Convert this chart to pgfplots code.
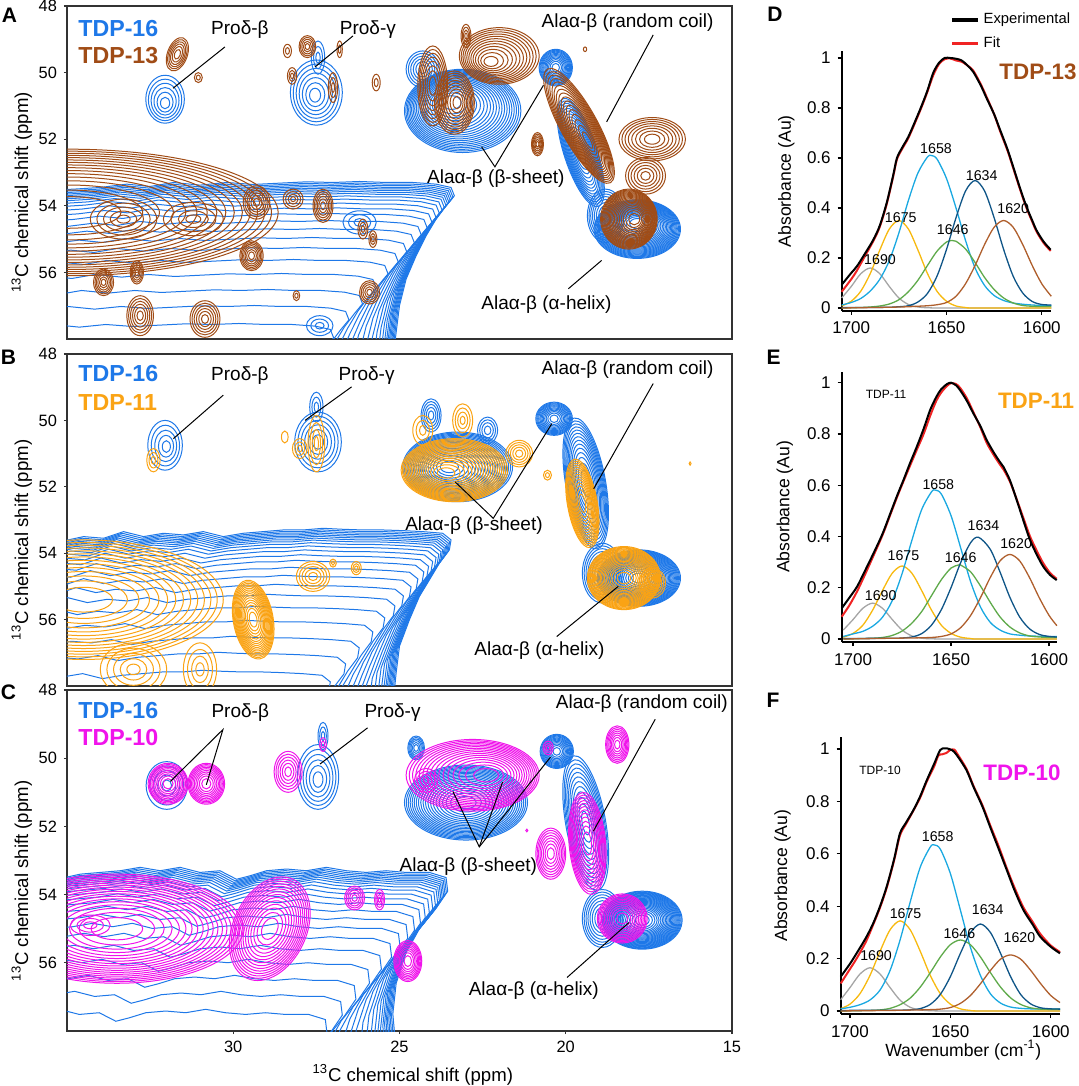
\documentclass[border=0pt]{standalone}
\usepackage{fontspec}
\setmainfont{Liberation Sans}
\usepackage{pgfplots}
\usepackage{pgfplotstable}
\pgfplotsset{compat=1.18}

\definecolor{cblue}{RGB}{30,120,232}
\definecolor{cbrown}{RGB}{160,76,22}
\definecolor{corange}{RGB}{250,163,20}
\definecolor{cmag}{RGB}{240,20,235}
\definecolor{fgray}{RGB}{165,165,165}
\definecolor{fyellow}{RGB}{247,185,15}
\definecolor{flblue}{RGB}{25,168,225}
\definecolor{fgreen}{RGB}{95,170,75}
\definecolor{fdblue}{RGB}{15,85,135}
\definecolor{fbrown}{RGB}{175,95,45}
\definecolor{fred}{RGB}{240,35,35}

\def\UX{16.625}
\def\UY{16.65}

\pgfdeclareplotmark{rings}{%
  \pgfmathtruncatemacro{\rN}{\vN}%
  \pgfmathsetmacro{\rB}{\vA+90}%
  \foreach \k in {1,...,\rN}{%
    \pgfmathsetmacro{\rF}{((\rN-\k+1)/\rN)^(\vP)}%
    \pgfmathsetmacro{\rCX}{-1*(\vDX)*(1-\rF)*\UX}%
    \pgfmathsetmacro{\rCY}{-1*(\vDY)*(1-\rF)*\UY}%
    \pgfmathsetmacro{\rAX}{\rF*\vRX*\UX}%
    \pgfmathsetmacro{\rAY}{\rF*\vRY*\UY}%
    \pgfpathellipse{\pgfpoint{\rCX pt}{\rCY pt}}{\pgfpointpolar{\vA}{\rAX pt}}{\pgfpointpolar{\rB}{\rAY pt}}%
    \pgfusepathqstroke
  }%
}

\pgfplotsset{
  rings/.style={only marks, scatter, mark=rings, clip marker paths=true, line width=0.5pt, #1,
    visualization depends on={value \thisrow{rx}\as\vRX},
    visualization depends on={value \thisrow{ry}\as\vRY},
    visualization depends on={value \thisrow{a}\as\vA},
    visualization depends on={value \thisrow{n}\as\vN},
    visualization depends on={value \thisrow{p}\as\vP},
    visualization depends on={value \thisrow{dx}\as\vDX},
    visualization depends on={value \thisrow{dy}\as\vDY},
    scatter/@pre marker code/.code={},
    scatter/@post marker code/.code={},
  },
  nmr/.style={anchor=south west, scale only axis, width=332.5pt,
    xmin=15, xmax=35, ymin=48, ymax=58, x dir=reverse, y dir=reverse,
    ytick={48,50,52,54,56}, xtick=\empty, tick pos=left, tick align=outside,
    major tick length=1.5pt,
    axis line style={black!80, line width=0.65pt},
    tick style={black!80, line width=0.6pt},
    tick label style={font=\fontsize{8.2}{9}\selectfont},
    /pgf/number format/assume math mode=true,
    ylabel={\textsuperscript{13}C chemical shift (ppm)},
    ylabel style={at={(axis description cs:-0.068,0.44)}, anchor=center, font=\fontsize{9.3}{10}\selectfont}},
  ftir/.style={anchor=south west, scale only axis, x dir=reverse,
    axis x line*=bottom, axis y line*=left,
    xtick={1600,1650,1700}, xticklabels={1600,1650,1700},
    ytick={0,0.2,0.4,0.6,0.8,1}, yticklabels={0,0.2,0.4,0.6,0.8,1},
    tick align=outside, major tick length=2pt,
    x axis line style={-, line width=0.7pt},
    y axis line style={-, line width=1.2pt},
    tick style={black, line width=0.6pt},
    tick label style={font=\fontsize{8.5}{9}\selectfont},
    /pgf/number format/assume math mode=true,
    ylabel={Absorbance (Au)},
    ylabel style={at={(axis description cs:-0.265,0.5)}, anchor=center, font=\fontsize{8.8}{10}\selectfont},
    clip=false},
  comp/.style={line width=0.65pt, smooth, forget plot},
  spec/.style={line width=1pt, smooth, forget plot},
}
\tikzset{
  lab/.style={font=\fontsize{9.5}{11}\selectfont, inner sep=0pt},
  pk/.style={font=\fontsize{7.1}{8}\selectfont, inner sep=0pt},
  annot/.style={black, line width=0.5pt},
  tdp/.style={font=\fontsize{11.6}{13}\selectfont\bfseries, inner sep=0pt, anchor=west},
  letter/.style={font=\fontsize{10.5}{12}\selectfont\bfseries, inner sep=0pt},
}

\pgfplotstableread{
x y
36 53.55
34.8 53.5
34 53.45
33.2 53.35
32.5 53.42
31.8 53.3
31 53.38
30.2 53.3
29.4 53.36
28.6 53.32
27.8 53.28
27 53.3
26.2 53.27
25.4 53.3
24.6 53.3
23.9 53.35
23.45 53.45
23.35 53.7
23.6 54.0
23.9 54.4
24.2 54.9
24.5 55.5
24.8 56.2
25.0 57.0
25.1 57.8
25.2 58.6
}\bandA

\pgfplotstableread{
x y
36 53.7
35.2 53.65
34.5 53.5
33.9 53.55
33.3 53.35
32.7 53.5
32.1 53.4
31.5 53.45
30.9 53.35
30.3 53.5
29.7 53.4
29.1 53.35
28.5 53.3
27.9 53.3
27.3 53.25
26.7 53.28
26.1 53.3
25.5 53.3
24.9 53.32
24.3 53.35
23.7 53.4
23.45 53.6
23.5 53.9
23.8 54.3
24.1 54.8
24.4 55.3
24.7 56.0
25.0 56.8
25.1 57.6
25.2 58.6
}\bandB

\pgfplotstableread{
x y
36 53.6
35.3 53.55
34.6 53.4
34 53.35
33.4 53.3
32.8 53.2
32.2 53.3
31.6 53.2
31 53.35
30.4 53.3
29.9 53.55
29.5 53.45
29 53.3
28.4 53.25
27.8 53.3
27.2 53.2
26.6 53.3
26 53.35
25.4 53.3
24.8 53.35
24.1 53.35
23.6 53.5
23.55 53.9
23.9 54.4
24.4 55.0
24.8 55.7
25.1 56.6
25.2 57.5
25.1 58.6
}\bandC

\begin{document}
\begin{tikzpicture}
\useasboundingbox (0,0) rectangle (539.5pt,543pt);

%================ PANEL A ================
\def\UY{16.65}
\begin{axis}[nmr, at={(33.5pt,373.5pt)}, height=166.5pt]
\pgfplotsinvokeforeach{0,0.8,1.6,2.4,3.2,4.0,4.9,5.9,7.2,8.8,10.8,13.2,16,19.5,23.5,28,33,39,46,54,62,71}{
  \addplot[cblue, line width=0.5pt, xshift={-0.85*#1pt}, yshift={-#1pt}] table {\bandA};
}
\addplot[rings=cblue] table {
x y rx ry a n p dx dy
32.05 50.8 0.58 0.72 0 6 0.8 0 0.15
27.5 50.6 0.78 0.98 0 7 0.8 0.05 0.1
27.45 49.55 0.2 0.5 0 3 1 0 0
23.1 51.15 1.75 1.25 0 20 0.6 0.4 -0.3
24.3 49.9 0.5 0.55 0 6 0.8 0 0
20.3 49.85 0.5 0.55 0 12 0.6 0 0
19.55 52.4 0.5 1.7 18 14 0.6 0 0
17.85 54.7 1.3 0.88 0 24 0.55 0 -0.2
18.8 54.3 0.55 0.8 0 8 0.7 0 0
26.2 54.5 0.5 0.35 0 3 1 0 0
27.4 57.6 0.4 0.3 0 3 1 0 0
};
\addplot[rings=cbrown] table {
x y rx ry a n p dx dy
31.68 49.45 0.3 0.52 -20 6 0.7 0 0
31.05 50.15 0.12 0.15 0 2 1 0 0
27.77 49.22 0.25 0.33 0 5 0.8 0 0
28.37 49.35 0.12 0.2 0 2 1 0 0
28.23 50.1 0.14 0.25 0 3 1 0 0
27.0 50.45 0.14 0.45 0 3 1 0 0
26.8 49.3 0.08 0.25 0 2 1 0 0
25.7 50.3 0.12 0.25 0 2 1 0 0
19.42 49.3 0.05 0.07 0 1 1 0 0
24.0 50.4 0.45 1.2 0 8 0.7 0 0
23.35 50.9 0.6 0.95 0 10 0.7 -0.1 0
22.0 49.5 1.2 0.85 0 12 0.7 0.3 0.2
23.0 48.9 0.15 0.35 0 4 1 0 0
20.85 52.15 0.18 0.35 0 6 0.8 0 0
19.6 51.6 0.55 1.95 29 16 0.7 -0.3 0.5
17.4 52.0 1.0 0.65 0 8 0.7 0 0
18.1 54.4 0.85 0.9 0 20 0.55 -0.2 0
17.6 53.1 0.6 0.55 0 6 0.8 0 0
34.95 54.2 6.3 1.9 0 16 0.5 0 0
33.3 54.4 1.0 0.6 0 5 1 0 0
31.2 54.4 0.9 0.5 0 4 1 0 0
32.9 56.0 0.2 0.35 0 5 0.8 0 0
29.45 55.5 0.35 0.45 0 7 0.7 0 0
33.9 56.3 0.3 0.4 0 6 0.8 0 0
32.8 57.3 0.4 0.6 0 6 0.8 0 0
30.85 57.4 0.45 0.55 0 6 0.8 0 0
29.3 53.9 0.4 0.5 0 6 0.8 0 0
27.3 54.0 0.3 0.5 0 6 0.8 0 0
28.2 53.8 0.3 0.3 0 4 1 0 0
26.1 54.7 0.15 0.3 0 3 1 0 0
25.8 55.0 0.12 0.25 0 3 1 0 0
25.9 56.6 0.3 0.35 0 5 0.8 0 0
28.1 56.7 0.1 0.15 0 2 1 0 0
};
\node[tdp, text=cblue] at (axis cs:34.67,48.69) {TDP-16};
\node[tdp, text=cbrown] at (axis cs:34.67,49.5) {TDP-13};
\node[lab] at (axis cs:29.8,48.72) {Proδ-β};
\draw[annot] (axis cs:30.25,49.23) -- (axis cs:31.81,50.47);
\node[lab] at (axis cs:25.95,48.72) {Proδ-γ};
\draw[annot] (axis cs:26.4,48.9) -- (axis cs:27.54,49.83);
\node[lab] at (axis cs:18.14,48.5) {Alaα-β (random coil)};
\draw[annot] (axis cs:17.37,48.87) -- (axis cs:18.77,51.48);
\node[lab] at (axis cs:22.1,53.19) {Alaα-β (β-sheet)};
\draw[annot] (axis cs:22.53,52.23) -- (axis cs:22.13,52.83) -- (axis cs:20.67,50.38);
\node[lab] at (axis cs:20.58,56.96) {Alaα-β (α-helix)};
\draw[annot] (axis cs:19.92,56.49) -- (axis cs:18.92,55.64);
\end{axis}

%================ PANEL B ================
\def\UY{16.6}
\begin{axis}[nmr, at={(33.5pt,200pt)}, height=166pt]
\pgfplotsinvokeforeach{0,0.8,1.6,2.4,3.2,4.0,4.9,5.9,7.2,8.8,10.8,13.2,16,19.5,23.5,28,33,39,46,54,62,71}{
  \addplot[cblue, line width=0.5pt, xshift={-0.85*#1pt}, yshift={-#1pt}] table {\bandB};
}
\addplot[rings=cblue] table {
x y rx ry a n p dx dy
32.05 50.75 0.52 0.75 0 5 0.9 -0.05 0.05
27.45 50.65 0.7 0.9 0 6 0.8 0 0
27.5 49.6 0.2 0.45 0 3 1 0 0
23.25 51.4 1.65 1.05 0 20 0.6 0.3 0
24.05 49.85 0.3 0.5 0 5 0.8 0 0
22.35 50.3 0.3 0.4 0 4 0.8 0 0
20.35 49.95 0.55 0.5 0 12 0.6 0 0
19.4 51.9 0.6 2.0 10 14 0.6 0 0
17.8 54.75 1.25 0.85 0 24 0.55 0 0
18.9 54.6 0.6 0.9 0 8 0.7 0 0
};
\addplot[rings=corange] table {
x y rx ry a n p dx dy
32.4 51.2 0.2 0.35 0 3 1 0 0
28.0 50.85 0.22 0.3 0 3 1 0 0
27.5 50.7 0.25 0.85 0 4 1 0 0
28.45 50.5 0.1 0.18 0 1 1 0 0
23.35 51.5 1.6 0.95 0 20 0.6 0.3 0.1
23.1 50.0 0.3 0.5 0 4 1 0 0
24.3 50.3 0.3 0.45 0 3 1 0 0
21.4 51.0 0.4 0.4 0 5 0.8 0 0
20.55 51.65 0.12 0.15 0 2 1 0 0
19.5 52.5 0.45 1.35 10 14 0.6 0 0
18.25 54.75 1.1 0.95 0 22 0.55 0 0
17.4 54.9 0.4 0.45 0 6 0.8 0 0
16.26 51.3 0.03 0.05 0 1 1 0 0
34.5 55.4 4.2 1.8 0 14 0.6 0 0
29.4 56.0 0.6 1.2 10 16 0.6 0 0
27.6 54.7 0.5 0.45 0 5 0.8 0 0
26.3 54.45 0.15 0.2 0 3 1 0 0
27.0 54.3 0.1 0.12 0 2 1 0 0
33.0 57.5 1.0 0.8 0 5 1 0 0
31.0 57.5 0.5 0.8 0 4 1 0 0
};
\node[tdp, text=cblue] at (axis cs:34.67,48.59) {TDP-16};
\node[tdp, text=corange] at (axis cs:34.67,49.47) {TDP-11};
\node[lab] at (axis cs:29.8,48.66) {Proδ-β};
\draw[annot] (axis cs:30.3,49.24) -- (axis cs:31.8,50.55);
\node[lab] at (axis cs:25.99,48.66) {Proδ-γ};
\draw[annot] (axis cs:26.44,48.99) -- (axis cs:27.84,50.0);
\node[lab] at (axis cs:18.14,48.47) {Alaα-β (random coil)};
\draw[annot] (axis cs:17.37,48.89) -- (axis cs:19.16,52.06);
\node[lab] at (axis cs:22.76,53.17) {Alaα-β (β-sheet)};
\draw[annot] (axis cs:23.33,51.85) -- (axis cs:22.18,52.95) -- (axis cs:20.42,50.1);
\node[lab] at (axis cs:20.79,56.92) {Alaα-β (α-helix)};
\draw[annot] (axis cs:20.27,56.51) -- (axis cs:18.42,55.0);
\end{axis}

%================ PANEL C ================
\def\UY{17.05}
\begin{axis}[nmr, at={(33.5pt,27.5pt)}, height=170.5pt,
  xtick={15,20,25,30}, xticklabels={15,20,25,30},
  xlabel={\textsuperscript{13}C chemical shift (ppm)},
  xlabel style={at={(axis description cs:0.52,-0.129)}, anchor=center, font=\fontsize{9.3}{10}\selectfont}]
\pgfplotsinvokeforeach{0,0.8,1.6,2.4,3.2,4.0,4.9,5.9,7.2,8.8,10.8,13.2,16,19.5,23.5,28,33,39,46,54,62,71}{
  \addplot[cblue, line width=0.5pt, xshift={-0.85*#1pt}, yshift={-#1pt}] table {\bandC};
}
\addplot[rings=cblue] table {
x y rx ry a n p dx dy
32.0 50.8 0.62 0.7 0 5 0.9 0 0
27.45 50.55 0.62 0.95 0 6 0.8 0 0.1
27.3 49.35 0.15 0.4 0 3 1 0 0
23.0 51.3 1.85 1.1 0 20 0.6 0 0
24.5 49.7 0.25 0.35 0 6 0.7 0 0
20.27 49.8 0.5 0.5 0 12 0.6 0 0
19.4 51.9 0.6 2.0 10 12 0.7 0 0
17.7 54.75 1.2 0.85 0 24 0.55 0 0
18.9 54.7 0.6 0.85 0 8 0.7 0 0
};
\addplot[rings=cmag] table {
x y rx ry a n p dx dy
31.96 50.75 0.6 0.6 0 10 0.6 0 0
30.81 50.75 0.55 0.6 0 10 0.6 0 0
28.35 50.4 0.42 0.6 0 6 0.8 0 0
27.3 49.6 0.1 0.2 0 2 1 0 0
22.8 50.5 2.0 1.05 0 16 0.6 -0.5 0
24.2 50.65 0.35 0.35 0 4 1 0 0
20.53 49.7 0.15 0.2 0 3 1 0 0
18.45 49.6 0.35 0.55 0 8 0.7 0 0
19.35 52.5 0.55 1.5 5 12 0.6 0 0
20.45 52.8 0.45 0.75 0 8 0.7 0 0
18.3 54.7 0.75 0.72 0 12 0.6 0 0
21.17 52.12 0.03 0.04 0 1 1 0 0
33.5 55.0 3.8 1.6 0 18 0.55 0 0
28.9 55.0 1.1 1.6 -25 14 0.6 0 0
26.35 54.1 0.3 0.35 0 5 0.8 0 0
25.6 54.15 0.15 0.3 0 4 1 0 0
24.75 55.95 0.42 0.6 0 9 0.6 0 0
34.3 54.9 0.6 0.3 0 3 1 0 0
};
\node[tdp, text=cblue] at (axis cs:34.67,48.6) {TDP-16};
\node[tdp, text=cmag] at (axis cs:34.67,49.38) {TDP-10};
\node[lab] at (axis cs:29.79,48.66) {Proδ-β};
\draw[annot] (axis cs:31.89,50.68) -- (axis cs:30.31,49.16) -- (axis cs:30.81,50.78);
\node[lab] at (axis cs:25.21,48.66) {Proδ-γ};
\draw[annot] (axis cs:25.96,49.11) -- (axis cs:27.39,50.17);
\node[lab] at (axis cs:17.71,48.4) {Alaα-β (random coil)};
\draw[annot] (axis cs:17.31,48.86) -- (axis cs:19.17,52.14);
\node[lab] at (axis cs:22.93,53.17) {Alaα-β (β-sheet)};
\draw[annot] (axis cs:23.39,50.98) -- (axis cs:22.6,52.6) -- (axis cs:20.46,49.97);
\draw[annot] (axis cs:22.6,52.6) -- (axis cs:21.9,50.7);
\node[lab] at (axis cs:20.96,56.81) {Alaα-β (α-helix)};
\draw[annot] (axis cs:19.96,56.43) -- (axis cs:18.1,54.82);
\end{axis}

%================ PANEL D ================
\begin{axis}[ftir, at={(420.85pt,387.5pt)}, width=104.5pt, height=129.75pt,
  xmin=1595.3, xmax=1705, ymin=-0.012, ymax=1.026,
  legend style={at={(axis description cs:0.49,1.18)}, anchor=north west, draw=none, fill=none,
    font=\fontsize{7.4}{8}\selectfont, row sep=1pt},
  legend cell align=left,
  legend image code/.code={\draw[#1, line width=1.6pt] (0pt,0pt) -- (13pt,0pt);}]
\addlegendimage{black}\addlegendentry{Experimental}
\addlegendimage{fred}\addlegendentry{Fit}
\addplot[comp, fgray] coordinates {(1705,0.040) (1700,0.086) (1695,0.137) (1690,0.160) (1685,0.137) (1680,0.086) (1675,0.040) (1670,0.014) (1665,0.004) (1660,0.001) (1650,0) (1595,0)};
\addplot[comp, fyellow] coordinates {(1705,0.008) (1700,0.027) (1695,0.067) (1690,0.138) (1685,0.232) (1680,0.316) (1675,0.350) (1670,0.316) (1665,0.232) (1660,0.138) (1655,0.067) (1650,0.027) (1645,0.008) (1640,0.002) (1635,0) (1595,0)};
\addplot[comp, flblue] coordinates {(1705,0.012) (1700,0.022) (1695,0.038) (1690,0.068) (1685,0.115) (1680,0.19) (1675,0.30) (1670,0.43) (1665,0.54) (1660,0.604) (1658,0.610) (1655,0.596) (1650,0.518) (1645,0.40) (1640,0.27) (1635,0.16) (1630,0.09) (1625,0.05) (1620,0.03) (1615,0.02) (1610,0.015) (1605,0.012) (1600,0.01) (1595,0.01)};
\addplot[comp, fgreen] coordinates {(1705,0) (1695,0.002) (1690,0.004) (1685,0.008) (1680,0.016) (1675,0.033) (1670,0.065) (1665,0.111) (1660,0.170) (1655,0.227) (1650,0.264) (1647,0.270) (1645,0.267) (1640,0.236) (1635,0.182) (1630,0.122) (1625,0.074) (1620,0.04) (1615,0.02) (1610,0.01) (1605,0.007) (1600,0.006) (1595,0.006)};
\addplot[comp, fdblue] coordinates {(1705,0.002) (1690,0.002) (1680,0.003) (1675,0.005) (1670,0.009) (1665,0.024) (1660,0.058) (1655,0.127) (1650,0.234) (1645,0.361) (1640,0.468) (1635,0.510) (1630,0.468) (1625,0.361) (1620,0.234) (1615,0.127) (1610,0.06) (1605,0.026) (1600,0.014) (1595,0.012)};
\addplot[comp, fbrown] coordinates {(1705,0) (1680,0.003) (1670,0.005) (1665,0.007) (1660,0.009) (1655,0.013) (1650,0.022) (1645,0.047) (1640,0.097) (1635,0.170) (1630,0.254) (1625,0.323) (1620,0.350) (1615,0.323) (1610,0.254) (1605,0.170) (1600,0.097) (1595,0.047)};
\addplot[spec, fred] coordinates {(1705,0.065) (1700,0.115) (1697,0.15) (1693,0.205) (1688.4,0.268) (1685,0.325) (1681.4,0.415) (1678,0.525) (1676,0.595) (1673,0.64) (1670,0.68) (1666,0.75) (1663,0.805) (1660,0.865) (1657,0.93) (1654,0.975) (1651,0.995) (1648,0.998) (1645,0.99) (1642,0.985) (1639,0.97) (1636,0.95) (1632,0.895) (1629,0.845) (1625,0.775) (1622,0.71) (1618,0.63) (1615,0.56) (1611,0.465) (1608,0.40) (1605,0.345) (1602.7,0.305) (1599,0.26) (1595.3,0.228)};
\addplot[spec, black] coordinates {(1705,0.093) (1700,0.14) (1697,0.167) (1693,0.215) (1688.4,0.273) (1685,0.33) (1681.4,0.42) (1678,0.53) (1676,0.60) (1673,0.645) (1670,0.685) (1666,0.755) (1663,0.81) (1660,0.87) (1657,0.94) (1654,0.98) (1651,1.0) (1648,1.0) (1645,0.997) (1642,0.99) (1639,0.97) (1636,0.945) (1632,0.89) (1629,0.84) (1625,0.775) (1622,0.715) (1618,0.635) (1615,0.565) (1611,0.47) (1608,0.405) (1605,0.35) (1602.7,0.31) (1599,0.265) (1595.3,0.233)};
\node[pk] at (axis cs:1684.9,0.192) {1690};
\node[pk] at (axis cs:1674,0.363) {1675};
\node[pk] at (axis cs:1655.5,0.639) {1658};
\node[pk] at (axis cs:1646.7,0.312) {1646};
\node[pk] at (axis cs:1631.5,0.528) {1634};
\node[pk] at (axis cs:1615,0.399) {1620};
\end{axis}

%================ PANEL E ================
\begin{axis}[ftir, at={(420.85pt,221.95pt)}, width=107.5pt, height=135.2pt,
  xmin=1596.1, xmax=1705.8, ymin=-0.012, ymax=1.043]
\addplot[comp, fgray] coordinates {(1705,0.035) (1700,0.076) (1695,0.120) (1690,0.140) (1685,0.120) (1680,0.076) (1675,0.035) (1670,0.012) (1665,0.003) (1660,0.001) (1650,0) (1596,0)};
\addplot[comp, fyellow] coordinates {(1705,0.007) (1700,0.022) (1695,0.054) (1690,0.113) (1685,0.189) (1680,0.257) (1675,0.285) (1670,0.257) (1665,0.189) (1660,0.113) (1655,0.054) (1650,0.022) (1645,0.007) (1640,0.002) (1635,0) (1596,0)};
\addplot[comp, flblue] coordinates {(1705,0.01) (1700,0.02) (1695,0.03) (1690,0.05) (1685,0.085) (1680,0.15) (1675,0.255) (1670,0.385) (1665,0.505) (1660,0.574) (1658,0.581) (1655,0.566) (1650,0.481) (1645,0.353) (1640,0.223) (1635,0.125) (1630,0.065) (1625,0.035) (1620,0.02) (1615,0.015) (1610,0.012) (1600,0.01) (1596,0.01)};
\addplot[comp, fgreen] coordinates {(1705,0) (1695,0.002) (1690,0.003) (1685,0.006) (1680,0.014) (1675,0.031) (1670,0.062) (1665,0.107) (1660,0.169) (1655,0.231) (1650,0.277) (1646,0.289) (1645,0.288) (1640,0.262) (1635,0.207) (1630,0.143) (1625,0.086) (1620,0.047) (1615,0.024) (1610,0.012) (1605,0.008) (1600,0.006) (1596,0.006)};
\addplot[comp, fdblue] coordinates {(1705,0.002) (1680,0.003) (1675,0.004) (1670,0.008) (1665,0.021) (1660,0.054) (1655,0.114) (1650,0.201) (1645,0.300) (1640,0.376) (1636,0.397) (1630,0.350) (1625,0.261) (1620,0.163) (1615,0.086) (1610,0.04) (1605,0.018) (1600,0.01) (1596,0.008)};
\addplot[comp, fbrown] coordinates {(1705,0) (1680,0.003) (1670,0.004) (1665,0.005) (1660,0.006) (1655,0.01) (1650,0.02) (1645,0.045) (1640,0.092) (1635,0.161) (1630,0.240) (1625,0.305) (1620,0.330) (1615,0.305) (1610,0.240) (1605,0.161) (1600,0.092) (1596,0.052)};
\addplot[spec, fred] coordinates {(1705.8,0.087) (1702,0.13) (1698,0.185) (1694,0.25) (1689.6,0.325) (1685,0.405) (1681,0.485) (1677.5,0.555) (1674.3,0.615) (1671,0.675) (1667.5,0.738) (1664,0.8) (1660.7,0.87) (1657.5,0.93) (1655,0.962) (1652,0.988) (1650,0.998) (1647.5,0.995) (1645.4,0.98) (1642,0.94) (1638.6,0.885) (1635,0.825) (1631.8,0.765) (1628,0.715) (1625,0.68) (1623.3,0.662) (1620,0.615) (1616.5,0.545) (1613,0.47) (1609.7,0.4) (1606,0.34) (1602.9,0.295) (1599.5,0.258) (1596.1,0.235)};
\addplot[spec, black] coordinates {(1705.8,0.12) (1702,0.16) (1698,0.204) (1694,0.265) (1689.6,0.334) (1685,0.41) (1681,0.49) (1677.5,0.56) (1674.3,0.62) (1671,0.685) (1667.5,0.75) (1664,0.82) (1660.7,0.893) (1657.5,0.945) (1655,0.975) (1652,0.995) (1650,1.0) (1647.5,0.99) (1645.4,0.971) (1642,0.93) (1638.6,0.88) (1635,0.83) (1631.8,0.776) (1628,0.725) (1625,0.69) (1623.3,0.672) (1620,0.62) (1616.5,0.542) (1613,0.46) (1609.7,0.386) (1606,0.325) (1602.9,0.282) (1599.5,0.25) (1596.1,0.23)};
\node[pk] at (axis cs:1685.9,0.169) {1690};
\node[pk] at (axis cs:1674.3,0.324) {1675};
\node[pk] at (axis cs:1656.5,0.601) {1658};
\node[pk] at (axis cs:1645.1,0.319) {1646};
\node[pk] at (axis cs:1633.5,0.442) {1634};
\node[pk] at (axis cs:1616.8,0.373) {1620};
\end{axis}

%================ PANEL F ================
\begin{axis}[ftir, at={(420.35pt,35.95pt)}, width=109.65pt, height=138.4pt,
  xmin=1595.4, xmax=1704.6, ymin=-0.012, ymax=1.045,
  xlabel={Wavenumber (cm\textsuperscript{-1})},
  xlabel style={at={(axis description cs:0.559,-0.13)}, anchor=center, font=\fontsize{8.8}{10}\selectfont}]
\addplot[comp, fgray] coordinates {(1704.6,0.043) (1700,0.089) (1695,0.141) (1690,0.165) (1685,0.141) (1680,0.089) (1675,0.041) (1670,0.014) (1665,0.004) (1660,0.001) (1650,0) (1595.4,0)};
\addplot[comp, fyellow] coordinates {(1704.6,0.009) (1700,0.026) (1695,0.066) (1690,0.136) (1685,0.228) (1680,0.310) (1675,0.344) (1670,0.310) (1665,0.228) (1660,0.136) (1655,0.066) (1650,0.026) (1645,0.008) (1640,0.002) (1635,0) (1595.4,0)};
\addplot[comp, flblue] coordinates {(1704.6,0.008) (1700,0.014) (1695,0.024) (1690,0.042) (1685,0.08) (1680,0.155) (1675,0.272) (1670,0.416) (1665,0.549) (1660,0.626) (1658,0.634) (1655,0.618) (1650,0.525) (1645,0.385) (1640,0.243) (1635,0.135) (1630,0.065) (1625,0.03) (1620,0.015) (1615,0.01) (1610,0.008) (1600,0.007) (1595.4,0.007)};
\addplot[comp, fgreen] coordinates {(1704.6,0) (1690,0.002) (1685,0.004) (1680,0.01) (1675,0.024) (1670,0.049) (1665,0.091) (1660,0.146) (1655,0.206) (1650,0.253) (1645,0.271) (1640,0.253) (1635,0.206) (1630,0.146) (1625,0.091) (1620,0.05) (1615,0.025) (1610,0.012) (1605,0.007) (1600,0.006) (1595.4,0.006)};
\addplot[comp, fdblue] coordinates {(1704.6,0.002) (1675,0.003) (1670,0.004) (1665,0.009) (1660,0.025) (1655,0.063) (1650,0.131) (1645,0.220) (1640,0.299) (1635,0.332) (1630,0.299) (1625,0.220) (1620,0.131) (1615,0.063) (1610,0.027) (1605,0.012) (1600,0.008) (1595.4,0.007)};
\addplot[comp, fbrown] coordinates {(1704.6,0) (1680,0.002) (1665,0.004) (1660,0.005) (1655,0.007) (1650,0.013) (1645,0.029) (1640,0.059) (1635,0.104) (1630,0.155) (1625,0.198) (1620,0.214) (1615,0.198) (1610,0.155) (1605,0.104) (1600,0.059) (1595.4,0.032)};
\addplot[spec, fred] coordinates {(1704.6,0.105) (1700,0.16) (1696.7,0.2) (1692,0.265) (1688.4,0.33) (1685,0.395) (1681.7,0.47) (1678,0.575) (1675.1,0.67) (1672,0.715) (1668.4,0.765) (1665,0.815) (1661.8,0.875) (1658,0.935) (1656,0.975) (1654,0.98) (1652,0.985) (1650,0.997) (1648,0.998) (1646.8,0.985) (1642,0.925) (1638.5,0.86) (1634,0.785) (1630.2,0.71) (1626,0.63) (1621.9,0.545) (1618,0.47) (1613.6,0.395) (1609,0.34) (1605.3,0.295) (1600,0.25) (1595.4,0.225)};
\addplot[spec, black] coordinates {(1704.6,0.131) (1700,0.18) (1696.7,0.22) (1692,0.28) (1688.4,0.335) (1685,0.40) (1681.7,0.475) (1678,0.58) (1675.1,0.678) (1672,0.72) (1668.4,0.767) (1665,0.82) (1661.8,0.88) (1658,0.945) (1655.1,0.996) (1653,1.003) (1651.8,1.003) (1649,0.995) (1646.8,0.977) (1642,0.92) (1638.5,0.856) (1634,0.78) (1630.2,0.703) (1626,0.62) (1621.9,0.538) (1618,0.46) (1613.6,0.385) (1609,0.33) (1605.3,0.284) (1600,0.245) (1595.4,0.22)};
\node[pk] at (axis cs:1687,0.21) {1690};
\node[pk] at (axis cs:1672.3,0.373) {1675};
\node[pk] at (axis cs:1656.3,0.665) {1658};
\node[pk] at (axis cs:1645.5,0.294) {1646};
\node[pk] at (axis cs:1631.4,0.386) {1634};
\node[pk] at (axis cs:1615.6,0.28) {1620};
\end{axis}

% panel letters and sample names
\node[letter] at (4.75pt,535.5pt) {A};
\node[letter] at (4.25pt,364.25pt) {B};
\node[letter] at (4.25pt,197pt) {C};
\node[letter] at (387.5pt,536pt) {D};
\node[letter] at (386.75pt,364.25pt) {E};
\node[letter] at (386.5pt,193pt) {F};
\node[font=\fontsize{11.2}{13}\selectfont\bfseries, text=cbrown, inner sep=0pt] at (519pt,507pt) {TDP-13};
\node[font=\fontsize{11.2}{13}\selectfont\bfseries, text=corange, inner sep=0pt] at (518pt,342.5pt) {TDP-11};
\node[font=\fontsize{11.2}{13}\selectfont\bfseries, text=cmag, inner sep=0pt] at (511pt,156.5pt) {TDP-10};
\node[font=\fontsize{6}{7}\selectfont, inner sep=0pt] at (443pt,346pt) {TDP-11};
\node[font=\fontsize{6}{7}\selectfont, inner sep=0pt] at (440pt,158pt) {TDP-10};
\end{tikzpicture}
\end{document}
